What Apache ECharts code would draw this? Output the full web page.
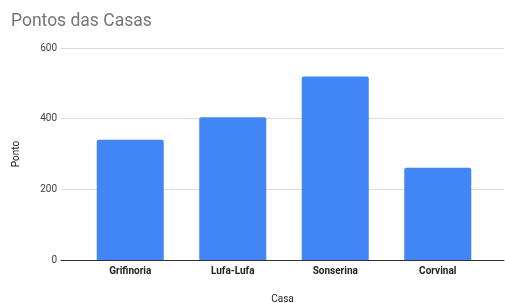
<!DOCTYPE html>
<html>
<head>
<meta charset="utf-8">
<script src="https://cdn.jsdelivr.net/npm/echarts@6/dist/echarts.min.js"></script>
<style>
  html, body { margin: 0; padding: 0; background: #fff; }
  #main { width: 505px; height: 303px; }
</style>
</head>
<body>
<div id="main"></div>
<script>
var casas = ['Grifinoria', 'Lufa-Lufa', 'Sonserina', 'Corvinal'];
var pontos = [340, 404, 519, 261];
var yTicks = [0, 200, 400, 600];

var myChart = echarts.init(document.getElementById('main'));
var option = {
    animation: false,
    title: {
        text: 'Pontos das Casas',
        left: 6,
        top: 8,
        textStyle: { fontFamily: 'Roboto', fontSize: 17.5, fontWeight: 'normal', color: '#757575' }
    },
    grid: [
        // bars
        { left: 79, right: 16, top: 48, bottom: 43, outerBoundsMode: 'none' },
        // full-width frame for gridlines and axis names
        { left: 61, right: 1, top: 48, bottom: 43, outerBoundsMode: 'none' }
    ],
    xAxis: [
        {
            type: 'category',
            gridIndex: 0,
            data: casas,
            axisLine: { show: false },
            axisTick: { show: false },
            axisLabel: { margin: 6, fontFamily: 'Roboto', fontSize: 10, fontWeight: 'bold', color: '#222' }
        },
        {
            type: 'value',
            gridIndex: 1,
            min: 0, max: 1,
            name: 'Casa',
            nameLocation: 'middle',
            nameGap: 34,
            nameTextStyle: { fontFamily: 'Roboto', fontSize: 10, color: '#222' },
            axisLine: { show: true, onZero: false, lineStyle: { color: '#333', width: 1 } },
            axisTick: { show: false },
            axisLabel: { show: false },
            splitLine: { show: false }
        }
    ],
    yAxis: [
        {
            type: 'value',
            gridIndex: 0,
            min: yTicks[0], max: yTicks[yTicks.length - 1], interval: 200,
            axisLine: { show: false },
            axisTick: { show: false },
            axisLabel: { show: false },
            splitLine: { show: false }
        },
        {
            type: 'value',
            gridIndex: 1,
            min: yTicks[0], max: yTicks[yTicks.length - 1], interval: 200,
            name: 'Ponto',
            nameLocation: 'middle',
            nameGap: 40,
            nameRotate: 90,
            nameTextStyle: { fontFamily: 'Roboto', fontSize: 10, color: '#222' },
            axisLine: { show: false },
            axisTick: { show: false },
            axisLabel: { margin: 4, fontFamily: 'Roboto', fontSize: 10, color: '#444' },
            splitLine: { lineStyle: { color: '#dcdcdc', width: 1 } }
        }
    ],
    series: [
        {
            name: 'Ponto',
            type: 'bar',
            xAxisIndex: 0,
            yAxisIndex: 0,
            data: pontos,
            barWidth: 67,
            itemStyle: { color: '#4285F4', borderRadius: [2, 2, 0, 0] },
            z: 3
        }
    ]
};
myChart.setOption(option);
</script>
</body>
</html>
